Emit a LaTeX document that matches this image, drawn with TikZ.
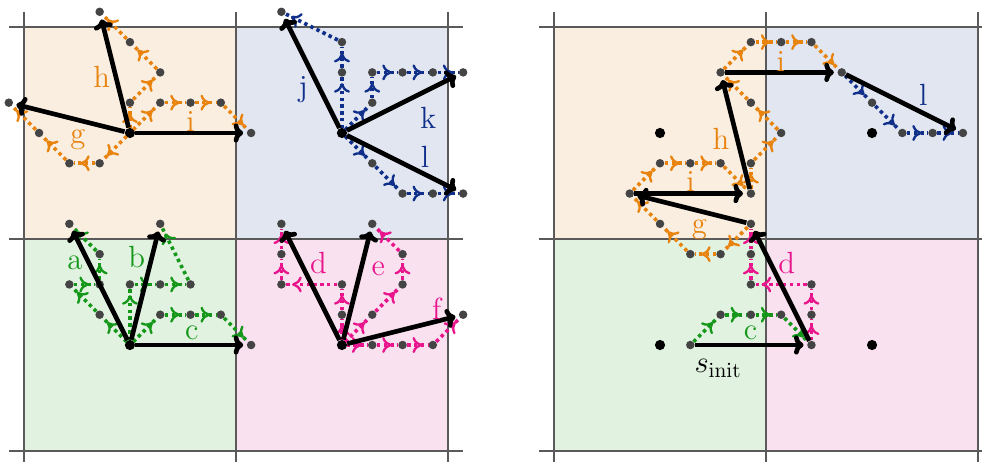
\documentclass[tikz,border=0pt]{standalone}
\usepackage{tikz}
\usetikzlibrary{arrows.meta,calc,decorations.markings}
\definecolor{orng}{HTML}{E8830E}
\definecolor{navy}{HTML}{0F2F8A}
\definecolor{grn}{HTML}{15981A}
\definecolor{pnk}{HTML}{E8158C}
\definecolor{orngbg}{HTML}{FAEEE0}
\definecolor{navybg}{HTML}{E1E6F1}
\definecolor{grnbg}{HTML}{E1F2E0}
\definecolor{pnkbg}{HTML}{FAE1F0}
\definecolor{gridgray}{HTML}{5A5A5A}
\definecolor{dotgray}{HTML}{444444}
\tikzset{
  gridline/.style={draw=gridgray, line width=0.9pt},
  gdot/.style={circle, fill=dotgray, inner sep=0pt, minimum size=4pt},
  cdot/.style={circle, fill=black, inner sep=0pt, minimum size=4.8pt},
  dpath/.style={draw=#1, line width=1.7pt, dash pattern=on 1.6pt off 1.6pt,
    postaction={decorate},
    decoration={markings,
      mark=at position -0.1cm with {\arrow[color=#1]{To[length=4.5pt,width=7.5pt,line width=1.1pt]}}}},
  act/.style={draw=black, line width=2.2pt, -{To[length=4.5pt,width=9pt]},
    shorten >=1.5pt},
  albl/.style={font=\Large, text=#1},
}
% dotted primitive path: name, colour, start node, list of dx/dy offsets
\newcommand{\actpath}[4]{%
  \node[gdot, fill=none] (#1-0) at (#3) {};
  \foreach \dx/\dy [count=\k, remember=\k as \j (initially 0)] in {#4} {
    \node[gdot] (#1-\k) at ($(#3)+(\dx,\dy)$) {};
    \draw[dpath=#2] (#1-\j) -- (#1-\k);
  }%
}

\begin{document}
\begin{tikzpicture}[x=0.5cm, y=0.5cm]
    \useasboundingbox (-4.29,-10.83) rectangle (28.13,4.39);

    % cells and grid, both panels
    \foreach \ox in {0,17.5} {
        \fill[orngbg] (\ox-3.5,-3.5) rectangle (\ox+3.5,3.5);
        \fill[navybg] (\ox+3.5,-3.5) rectangle (\ox+10.5,3.5);
        \fill[grnbg] (\ox-3.5,-10.5) rectangle (\ox+3.5,-3.5);
        \fill[pnkbg] (\ox+3.5,-10.5) rectangle (\ox+10.5,-3.5);
        \foreach \v in {-3.5,3.5,10.5}
            \draw[gridline] (\ox+\v,4) -- (\ox+\v,-11);
        \foreach \h in {3.5,-3.5,-10.5}
            \draw[gridline] (\ox-4,\h) -- (\ox+11,\h);
    }

    % LEFT PANEL: primitives from each cell centre
    \node[cdot] (cO) at (0,0) {};
    \node[cdot] (cB) at (7,0) {};
    \node[cdot] (cG) at (0,-7) {};
    \node[cdot] (cP) at (7,-7) {};

    \actpath{g}{orng}{cO}{-1/-1, -2/-1, -3/0, -4/1}
    \actpath{h}{orng}{cO}{0/1, 1/2, 0/3, -1/4}
    \actpath{i}{orng}{cO}{1/1, 2/1, 3/1, 4/0}
    \actpath{j}{navy}{cB}{0/2, 0/3, -2/4}
    \actpath{k}{navy}{cB}{1/1, 1/2, 2/2, 3/2, 4/2}
    \actpath{l}{navy}{cB}{1/-1, 2/-2, 3/-2, 4/-2}
    \actpath{a}{grn}{cG}{-1/1, -2/2, -1/2, -1/3, -2/4}
    \actpath{b}{grn}{cG}{0/2, 1/2, 2/2, 1/4}
    \actpath{c}{grn}{cG}{1/1, 2/1, 3/1, 4/0}
    \actpath{d}{pnk}{cP}{0/1, 0/2, -2/2, -2/3, -2/4}
    \actpath{e}{pnk}{cP}{1/1, 2/2, 2/3, 1/4}
    \actpath{f}{pnk}{cP}{1/0, 2/0, 3/0, 4/1}

    \draw[act] (cO) -- (g-4);
    \draw[act] (cO) -- (h-4);
    \draw[act] (cO) -- (i-4);
    \draw[act] (cB) -- (j-3);
    \draw[act] (cB) -- (k-5);
    \draw[act] (cB) -- (l-4);
    \draw[act] (cG) -- (a-5);
    \draw[act] (cG) -- (b-4);
    \draw[act] (cG) -- (c-4);
    \draw[act] (cP) -- (d-5);
    \draw[act] (cP) -- (e-4);
    \draw[act] (cP) -- (f-4);

    \node[albl=orng] (lg) at (-1.72,-0.23) {g};
    \node[albl=orng] (lh) at (-0.93,1.86) {h};
    \node[albl=orng] (li) at (2.0,0.37) {i};
    \node[albl=navy] (lj) at (5.72,1.42) {j};
    \node[albl=navy] (lk) at (9.85,0.49) {k};
    \node[albl=navy] (ll) at (9.74,-0.78) {l};
    \node[albl=grn] (la) at (-1.82,-4.30) {a};
    \node[albl=grn] (lb) at (0.22,-4.08) {b};
    \node[albl=grn] (lc) at (2.04,-6.61) {c};
    \node[albl=pnk] (ld) at (6.22,-4.30) {d};
    \node[albl=pnk] (le) at (8.2,-4.47) {e};
    \node[albl=pnk] (lf) at (10.13,-5.79) {f};

    % RIGHT PANEL: one rollout from s_init
    \node[cdot] (rO) at (17.5,0) {};
    \node[cdot] (rB) at (24.5,0) {};
    \node[cdot] (rG) at (17.5,-7) {};
    \node[cdot] (rP) at (24.5,-7) {};
    \node[gdot] (sinit) at (18.5,-7) {};

    \actpath{rc}{grn}{sinit}{1/1, 2/1, 3/1, 4/0}
    \actpath{rd}{pnk}{rc-4}{0/1, 0/2, -2/2, -2/3, -2/4}
    \actpath{rg}{orng}{rd-5}{-1/-1, -2/-1, -3/0, -4/1}
    \actpath{ri}{orng}{rg-4}{1/1, 2/1, 3/1, 4/0}
    \actpath{rh}{orng}{ri-4}{0/1, 1/2, 0/3, -1/4}
    \actpath{rii}{orng}{rh-4}{1/1, 2/1, 3/1, 4/0}
    \actpath{rl}{navy}{rii-4}{1/-1, 2/-2, 3/-2, 4/-2}

    \draw[act] (sinit) -- (rc-4);
    \draw[act] (rc-4) -- (rd-5);
    \draw[act] (rd-5) -- (rg-4);
    \draw[act] (rg-4) -- (ri-4);
    \draw[act] (ri-4) -- (rh-4);
    \draw[act] (rh-4) -- (rii-4);
    \draw[act] (rii-4) -- (rl-4);

    \node[albl=grn] (rlc) at (20.49,-6.61) {c};
    \node[albl=pnk] (rld) at (21.68,-4.30) {d};
    \node[albl=orng] (rlg) at (18.8,-3.2) {g};
    \node[albl=orng] (rli) at (18.51,-1.61) {i};
    \node[albl=orng] (rlh) at (19.51,-0.18) {h};
    \node[albl=orng] (rlii) at (21.49,2.35) {i};
    \node[albl=navy] (rll) at (26.19,1.25) {l};
    \node[font=\Large] (slbl) at (19.42,-7.77) {$s_{\mathrm{init}}$};
\end{tikzpicture}
\end{document}
